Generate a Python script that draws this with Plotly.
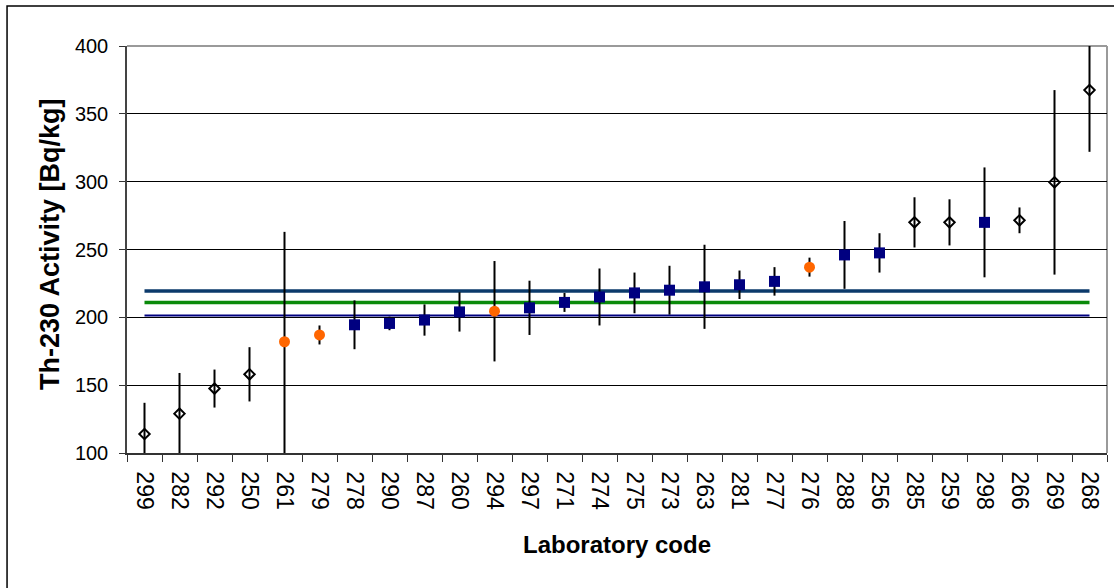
import plotly.graph_objects as go

# Laboratory codes in plotting order
labs = ["299", "282", "292", "250", "261", "279", "278", "290", "287", "260",
        "294", "297", "271", "274", "275", "273", "263", "281", "277", "276",
        "288", "256", "285", "259", "298", "266", "269", "268"]

# Reported Th-230 activity [Bq/kg] and uncertainties (upper / lower)
values = [114, 129, 147.5, 158, 182, 187, 194.5, 195.5, 198, 204,
          204.5, 207, 211, 215, 218, 220, 222.5, 224, 226.5, 237,
          246, 247.5, 270, 270, 270, 271.5, 299.5, 367.5]
err_plus = [23, 30, 14, 20, 81, 7, 18, 5, 11.5, 14.5,
            37, 20, 7, 21, 15, 18, 31, 10.5, 10.5, 7,
            25, 14.5, 18.5, 17, 40.5, 9.5, 68, 37]
err_minus = [21, 30, 14, 20, 82, 7, 18, 5, 11.5, 14.5,
             37, 20, 7, 21, 15, 18, 31, 10.5, 10.5, 7,
             25, 14.5, 18.5, 17, 40.5, 9.5, 68, 45.5]

# Result classification per laboratory
diamond_labs = ["299", "282", "292", "250", "285", "259", "266", "269", "268"]
circle_labs = ["261", "279", "294", "276"]
square_labs = ["278", "290", "287", "260", "297", "271", "274", "275", "273",
               "263", "281", "277", "288", "256", "298"]

# Horizontal reference levels
ref_upper = 219.5
ref_value = 211
ref_lower = 201.3

FONT = "Arial, 'Liberation Sans', sans-serif"


def subset(codes):
    idx = [labs.index(c) for c in codes]
    return ([labs[i] for i in idx], [values[i] for i in idx],
            [err_plus[i] for i in idx], [err_minus[i] for i in idx])


fig = go.Figure()

# reference lines spanning first to last laboratory
for level, color, width in [(ref_upper, "#0b3a6b", 3.5),
                            (ref_value, "#0a8a0a", 3.5),
                            (ref_lower, "#000080", 2)]:
    fig.add_trace(go.Scatter(
        x=[labs[0], labs[-1]], y=[level, level], mode="lines",
        line=dict(color=color, width=width), hoverinfo="skip",
        showlegend=False))

groups = [
    (diamond_labs, dict(symbol="diamond-open", size=8, color="black",
                        line=dict(color="black", width=2))),
    (circle_labs, dict(symbol="circle", size=11, color="#ff6600",
                       line=dict(width=0))),
    (square_labs, dict(symbol="square", size=11, color="#000080",
                       line=dict(width=0))),
]
for codes, marker in groups:
    x, y, ep, em = subset(codes)
    fig.add_trace(go.Scatter(
        x=x, y=y, mode="markers", marker=marker, cliponaxis=False,
        error_y=dict(type="data", array=ep, arrayminus=em, symmetric=False,
                     color="black", thickness=2, width=0),
        showlegend=False))

fig.update_layout(
    width=1114, height=588,
    margin=dict(l=127, r=7, t=46, b=135),
    paper_bgcolor="white", plot_bgcolor="white",
    font=dict(family=FONT, color="black"),
    showlegend=False,
    xaxis=dict(
        type="category", categoryorder="array", categoryarray=labs,
        range=[-0.5, len(labs) - 0.5],
        tickangle=90, tickfont=dict(size=23, family=FONT, color="black"),
        ticks="outside", tickson="boundaries", ticklen=7, tickcolor="#333",
        ticklabelstandoff=12,
        showline=True, linecolor="#333", linewidth=1.5,
        showgrid=False, zeroline=False, automargin=False,
    ),
    yaxis=dict(
        range=[100, 400], dtick=50, tick0=100,
        tickfont=dict(size=20, family=FONT, color="black"),
        ticks="outside", ticklen=6, tickcolor="#333",
        ticklabelstandoff=7,
        showline=True, linecolor="#444", linewidth=1.5,
        showgrid=True, gridcolor="black", gridwidth=1,
        zeroline=False, automargin=False,
    ),
    shapes=[
        # plot-area frame (top and right)
        dict(type="line", xref="paper", yref="paper", x0=0, x1=1, y0=1, y1=1,
             line=dict(color="#9a9a9a", width=2), layer="between"),
        dict(type="line", xref="paper", yref="paper", x0=1, x1=1, y0=0, y1=1,
             line=dict(color="#9a9a9a", width=2), layer="between"),
        # chart border
        dict(type="rect", xref="paper", yref="paper",
             x0=-0.1224, x1=1.01, y0=-0.345, y1=1.0983,
             line=dict(color="black", width=1.5), layer="below"),
    ],
    annotations=[
        dict(text="<b>Th-230 Activity [Bq/kg]</b>", xref="paper", yref="paper",
             x=-0.0786, y=0.5135, textangle=-90, showarrow=False,
             xanchor="center", yanchor="middle",
             font=dict(size=27, family=FONT, color="black")),
        dict(text="<b>Laboratory code</b>", xref="paper", yref="paper",
             x=0.4995, y=-0.226, showarrow=False,
             xanchor="center", yanchor="middle",
             font=dict(size=24, family=FONT, color="black")),
    ],
)

fig.write_html("out.html")
